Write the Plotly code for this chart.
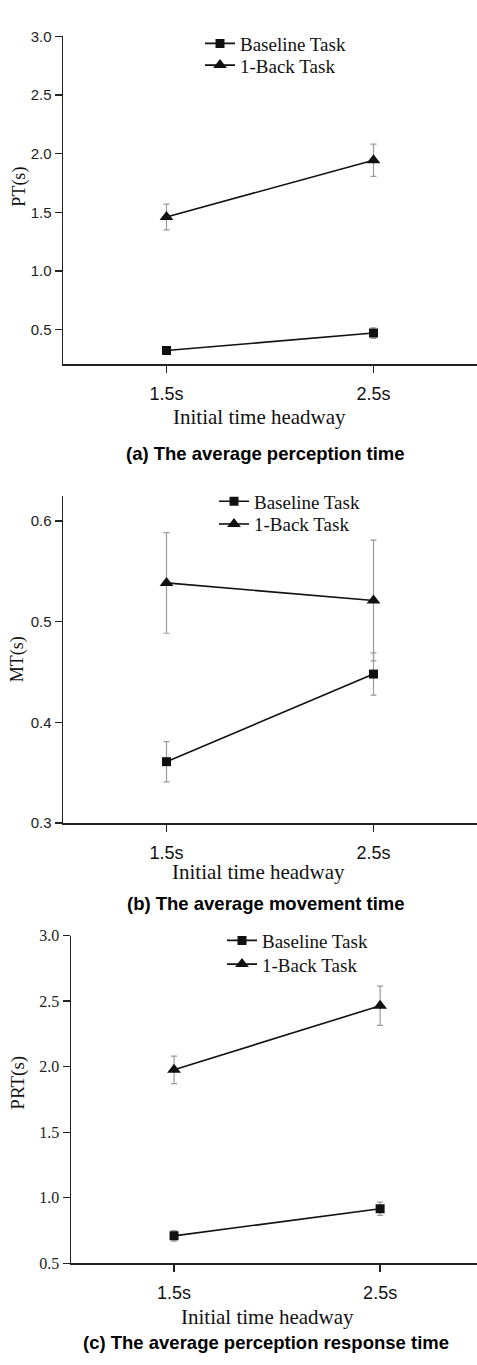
import plotly.graph_objects as go

W, H = 477, 1365

headway = ["1.5s", "2.5s"]

# (a) perception time
pt_base = [0.323, 0.472]
pt_base_err = [0.02, 0.045]
pt_back = [1.461, 1.944]
pt_back_err = [0.11, 0.137]

# (b) movement time
mt_base = [0.361, 0.448]
mt_base_err = [0.02, 0.021]
mt_back = [0.5385, 0.521]
mt_back_err = [0.05, 0.06]

# (c) perception response time
prt_base = [0.709, 0.916]
prt_base_err = [0.04, 0.05]
prt_back = [1.976, 2.465]
prt_back_err = [0.105, 0.15]

series_names = ["Baseline Task", "1-Back Task"]

SERIF = "Liberation Serif, Times New Roman, serif"
SANS = "Liberation Sans, Arial, sans-serif"
INK = "#111111"
AX = "#222222"
ERR = "#9a9a9a"


def py(p):
    return 1 - p / H


def px(p):
    return p / W


fig = go.Figure()

panels = [
    dict(base=pt_base, berr=pt_base_err, back=pt_back, kerr=pt_back_err,
         x="x", y="y", lb="legend", lk="legend2"),
    dict(base=mt_base, berr=mt_base_err, back=mt_back, kerr=mt_back_err,
         x="x2", y="y2", lb="legend3", lk="legend4"),
    dict(base=prt_base, berr=prt_base_err, back=prt_back, kerr=prt_back_err,
         x="x3", y="y3", lb="legend5", lk="legend6"),
]

for p in panels:
    fig.add_trace(go.Scatter(
        x=headway, y=p["back"], name=series_names[1], mode="lines+markers",
        xaxis=p["x"], yaxis=p["y"], legend=p["lk"],
        line=dict(color=INK, width=1.6),
        marker=dict(symbol="triangle-up", size=12, color=INK),
        error_y=dict(type="data", array=p["kerr"], color=ERR, thickness=1.2, width=3),
    ))
    fig.add_trace(go.Scatter(
        x=headway, y=p["base"], name=series_names[0], mode="lines+markers",
        xaxis=p["x"], yaxis=p["y"], legend=p["lb"],
        line=dict(color=INK, width=1.6),
        marker=dict(symbol="square", size=9, color=INK),
        error_y=dict(type="data", array=p["berr"], color=ERR, thickness=1.2, width=3),
    ))

axis_common = dict(showline=True, linecolor=AX, linewidth=1.5, showgrid=False,
                   zeroline=False, ticks="outside", ticklen=7, tickwidth=1.3,
                   tickcolor=AX)

fig.update_layout(
    width=W, height=H,
    margin=dict(l=0, r=0, t=0, b=0),
    paper_bgcolor="white", plot_bgcolor="white",
    showlegend=True,
    xaxis=dict(**axis_common, domain=[px(63), 1], anchor="y", type="category",
               range=[-0.5, 1.5], tickfont=dict(family=SANS, size=18, color=INK),
               ticklabelstandoff=6),
    yaxis=dict(**axis_common, domain=[py(360), py(27.7)], anchor="x",
               range=[0.206, 3.0], tickvals=[0.5, 1.0, 1.5, 2.0, 2.5, 3.0],
               ticktext=["0.5", "1.0", "1.5", "2.0", "2.5", "3.0"],
               tickfont=dict(family=SANS, size=15, color="#222")),
    xaxis2=dict(**axis_common, domain=[px(63), 1], anchor="y2", type="category",
                range=[-0.5, 1.5], tickfont=dict(family=SANS, size=18, color=INK),
                ticklabelstandoff=6),
    yaxis2=dict(**axis_common, domain=[py(825), py(493.3)], anchor="x2",
                range=[0.3, 0.625], tickvals=[0.3, 0.4, 0.5, 0.6],
                ticktext=["0.3", "0.4", "0.5", "0.6"],
                tickfont=dict(family=SANS, size=15, color="#222")),
    xaxis3=dict(**axis_common, domain=[px(71), 1], anchor="y3", type="category",
                range=[-0.5, 1.47], tickfont=dict(family=SANS, size=18, color=INK),
                ticklabelstandoff=6),
    yaxis3=dict(**axis_common, domain=[py(1271), py(939)], anchor="x3",
                range=[0.5, 3.0], tickvals=[0.5, 1.0, 1.5, 2.0, 2.5, 3.0],
                ticktext=["0.5", "1.0", "1.5", "2.0", "2.5", "3.0"],
                tickfont=dict(family=SERIF, size=16, color="#222")),
)

leg_common = dict(bgcolor="rgba(0,0,0,0)", borderwidth=0, xanchor="left",
                  yanchor="middle", font=dict(family=SERIF, size=19, color=INK),
                  tracegroupgap=0, itemsizing="trace")
fig.update_layout(
    legend=dict(**leg_common, x=px(200), y=py(35)),
    legend2=dict(**leg_common, x=px(200), y=py(57)),
    legend3=dict(**leg_common, x=px(214), y=py(499)),
    legend4=dict(**leg_common, x=px(214), y=py(522)),
    legend5=dict(**leg_common, x=px(222), y=py(944)),
    legend6=dict(**leg_common, x=px(222), y=py(968)),
)

annotations = [
    # y titles
    dict(text="PT(s)", x=px(20), y=py(180), textangle=-90, size=18),
    dict(text="MT(s)", x=px(17), y=py(659), textangle=-90, size=18),
    dict(text="PRT(s)", x=px(18), y=py(1088), textangle=-90, size=19),
    # x titles
    dict(text="Initial time headway", x=px(259), y=py(413), textangle=0, size=21),
    dict(text="Initial time headway", x=px(258), y=py(875), textangle=0, size=21),
    dict(text="Initial time headway", x=px(267), y=py(1325), textangle=0, size=21),
]
for a in annotations:
    fig.add_annotation(text=a["text"], x=a["x"], y=a["y"], xref="paper", yref="paper",
                       xanchor="center", yanchor="middle", showarrow=False,
                       textangle=a["textangle"],
                       font=dict(family=SERIF, size=a["size"], color=INK))

captions = [
    ("(a) The average perception time", 265.5, 450),
    ("(b) The average movement time", 265.5, 906),
    ("(c) The average perception response time", 266, 1351),
]
for t, cx, cy in captions:
    fig.add_annotation(text="<b>%s</b>" % t, x=px(cx), y=py(cy), xref="paper",
                       yref="paper", xanchor="center", yanchor="middle",
                       showarrow=False,
                       font=dict(family=SANS, size=18.5, color="#000"))

post = ("document.documentElement.style.margin='0';"
        "document.body.style.margin='0';document.body.style.padding='0';"
        "document.body.style.overflow='hidden';")
fig.write_html("out.html", post_script=post,
               config={"displayModeBar": False, "staticPlot": True})
